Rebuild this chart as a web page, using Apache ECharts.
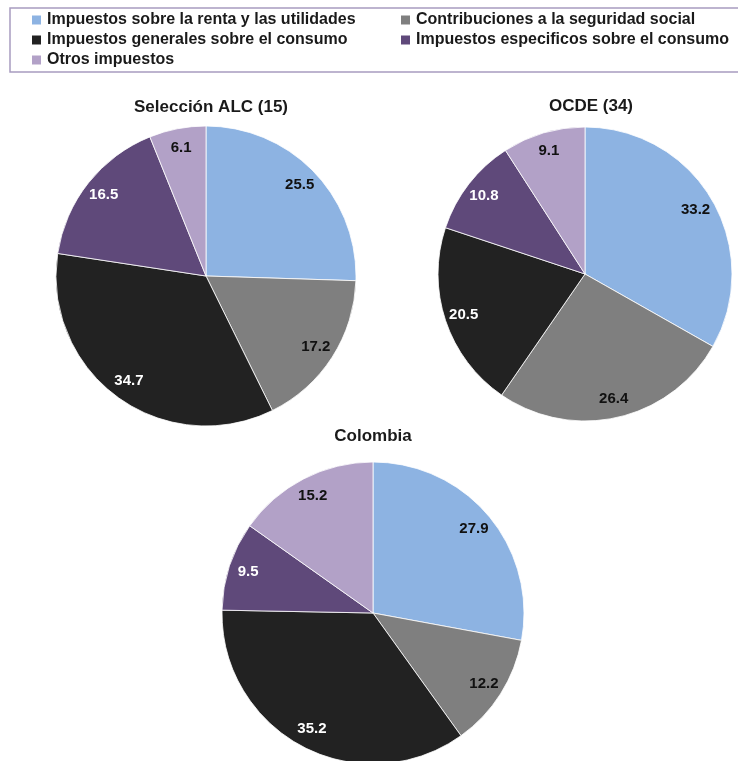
<!DOCTYPE html>
<html>
<head>
<meta charset="utf-8">
<script src="https://cdn.jsdelivr.net/npm/echarts@6/dist/echarts.min.js"></script>
<style>
  html, body { margin: 0; padding: 0; background: #fff; }
  #chart { width: 738px; height: 761px; }
</style>
</head>
<body>
<div id="chart"></div>
<script>
// categorias (mismo orden en los tres graficos)
var categorias = [
  'Impuestos sobre la renta y las utilidades',
  'Contribuciones a la seguridad social',
  'Impuestos generales sobre el consumo',
  'Impuestos especificos sobre el consumo',
  'Otros impuestos'
];
var titulos = ['Selección ALC (15)', 'OCDE (34)', 'Colombia'];
var valoresALC = [25.5, 17.2, 34.7, 16.5, 6.1];
var valoresOCDE = [33.2, 26.4, 20.5, 10.8, 9.1];
var valoresColombia = [27.9, 12.2, 35.2, 9.5, 15.2];

var colores = ['#8db3e2', '#7f7f7f', '#222222', '#5f497a', '#b2a1c7'];
var coloresEtiqueta = ['#111', '#111', '#fff', '#fff', '#111'];
var fuente = 'Liberation Sans, Arial, sans-serif';

var myChart = echarts.init(document.getElementById('chart'));

function datos(valores) {
  return categorias.map(function (c, i) {
    return { name: c, value: valores[i], label: { color: coloresEtiqueta[i] } };
  });
}

// cada torta: relleno + serie transparente solo para las etiquetas (a ~0.85 del radio)
function torta(valores, centro, radio) {
  return [
    {
      type: 'pie',
      center: centro,
      radius: radio,
      startAngle: 90,
      clockwise: true,
      label: { show: false },
      labelLine: { show: false },
      itemStyle: { borderColor: '#fff', borderWidth: 0.8 },
      emphasis: { scale: false },
      data: datos(valores)
    },
    {
      type: 'pie',
      center: centro,
      radius: [radio * 0.7, radio],
      startAngle: 90,
      clockwise: true,
      silent: true,
      itemStyle: { color: 'transparent' },
      label: {
        show: true,
        position: 'inside',
        formatter: function (p) { return p.value.toFixed(1); },
        fontFamily: fuente,
        fontWeight: 'bold',
        fontSize: 15
      },
      labelLine: { show: false },
      data: datos(valores)
    }
  ];
}

var tituloEstilo = { fontFamily: fuente, fontWeight: 'bold', fontSize: 17, color: '#1a1a1a' };
var leyendaTexto = { fontFamily: fuente, fontWeight: 'bold', fontSize: 16, color: '#1a1a1a' };

myChart.setOption({
  backgroundColor: '#fff',
  color: colores,
  animation: false,
  title: [
    { text: titulos[0], left: 206, top: 94, textAlign: 'center', textStyle: tituloEstilo },
    { text: titulos[1], left: 586, top: 93, textAlign: 'center', textStyle: tituloEstilo },
    { text: titulos[2], left: 368, top: 423, textAlign: 'center', textStyle: tituloEstilo }
  ],
  graphic: [
    {
      type: 'rect',
      shape: { x: 10, y: 8, width: 740, height: 64 },
      style: { fill: 'none', stroke: '#a89cc0', lineWidth: 1.5 },
      silent: true
    }
  ],
  legend: [
    {
      orient: 'vertical',
      left: 30,
      top: 12,
      padding: 0,
      itemWidth: 11,
      itemHeight: 11,
      itemGap: 4,
      icon: 'rect',
      selectedMode: false,
      textStyle: leyendaTexto,
      data: [categorias[0], categorias[2], categorias[4]]
    },
    {
      orient: 'vertical',
      left: 399,
      top: 12,
      padding: 0,
      itemWidth: 11,
      itemHeight: 11,
      itemGap: 4,
      icon: 'rect',
      selectedMode: false,
      textStyle: leyendaTexto,
      data: [categorias[1], categorias[3]]
    }
  ],
  series: []
    .concat(torta(valoresALC, [206, 276], 150))
    .concat(torta(valoresOCDE, [585, 274], 147))
    .concat(torta(valoresColombia, [373, 613], 151))
});

window.addEventListener('resize', function () {
  myChart.resize();
});
</script>
</body>
</html>
